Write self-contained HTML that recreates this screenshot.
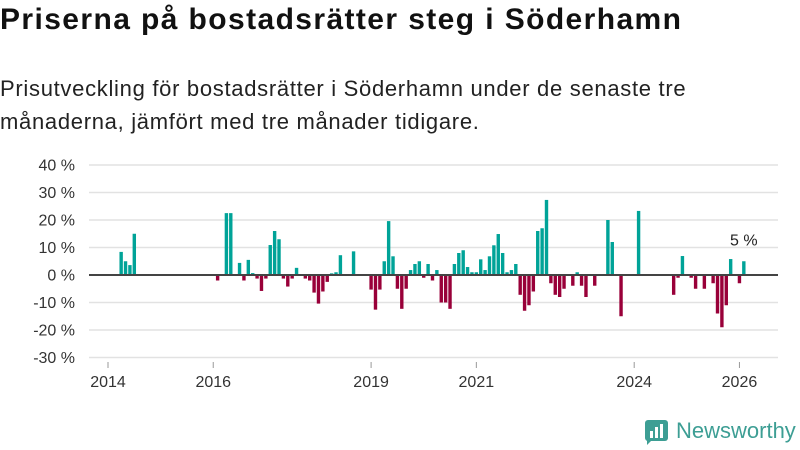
<!DOCTYPE html>
<html><head><meta charset="utf-8">
<style>
body{margin:0;width:800px;height:450px;background:#fff;overflow:hidden;font-family:"Liberation Sans",sans-serif;color:#111}
#title{position:absolute;left:0;top:3px;font-size:30px;font-weight:bold;white-space:nowrap;letter-spacing:1.4px}
#sub{position:absolute;left:0;top:72px;font-size:22px;line-height:33px;color:#222;width:720px;letter-spacing:0.7px}
svg{position:absolute;left:0;top:0}
</style></head><body>
<div id="title">Priserna på bostadsrätter steg i Söderhamn</div>
<div id="sub">Prisutveckling för bostadsrätter i Söderhamn under de senaste tre<br>månaderna, jämfört med tre månader tidigare.</div>
<svg id="chart" width="800" height="450"></svg>
<script>
const startYear = 2014;
const values = [null,null,null,8.4,5,3.6,15,null,null,null,null,null,null,null,null,null,null,null,null,null,null,null,null,null,null,-2,null,22.5,22.5,null,4.4,-2,5.5,0.7,-1.3,-5.8,-1.3,10.9,16,13,-1.3,-4.2,-1.3,2.6,null,-1.3,-2,-6.4,-10.4,-6,-2.5,0.6,1,7.2,null,null,8.6,null,null,null,-5.3,-12.6,-5.3,5,19.6,6.8,-5,-12.3,-5,1.8,4,5,-1,4,-2,1.8,-10,-10,-12.3,4,8,9,2.9,1,1,5.7,1.8,6.8,10.8,14.9,8,1,1.8,4,-7.2,-13,-11,-6,16,17,27.3,-3,-7.2,-8,-5,null,-3.9,1,-3.9,-8,null,-3.9,null,null,20,12,null,-15,null,null,null,23.3,null,null,null,null,null,null,null,-7.2,-1,6.9,null,-1,-5,null,-5,null,-3,-14,-19,-11,5.8,null,-3,5];
const yTicks = [40,30,20,10,0,-10,-20,-30];
const xTickYears = [2014,2016,2019,2021,2024,2026];
const lastLabel = "5 %";

const NS="http://www.w3.org/2000/svg";
const svg=document.getElementById('chart');
const x=m=>108+m*4.385;
const y=v=>275-v*2.75;
const X0=89, X1=778;
function mk(t,a){const e=document.createElementNS(NS,t);for(const k in a)e.setAttribute(k,a[k]);svg.appendChild(e);return e;}
yTicks.forEach(t=>{
  if(t!==0){const g=mk('line',{x1:X0,x2:X1,y1:y(t),y2:y(t),stroke:'#e2e2e2','stroke-width':1.5});
  
  }
  const l=mk('text',{x:75,y:y(t)+5.5,'text-anchor':'end','font-size':16,fill:'#333','font-family':'Liberation Sans, sans-serif'});
  l.textContent=t+' %';
  
  
});
xTickYears.forEach(yr=>{
  const px=x((yr-startYear)*12);
  const tk=mk('line',{x1:px,x2:px,y1:362,y2:368,stroke:'#999','stroke-width':1});
  
  
  const l=mk('text',{x:px,y:387,'text-anchor':'middle','font-size':16,fill:'#333','font-family':'Liberation Sans, sans-serif'});
  l.textContent=yr;
  
  
});
let last=-1;
values.forEach((v,i)=>{
  if(v===null)return;
  last=i;
  const top=v>=0?y(v):y(0), h=Math.abs(y(v)-y(0));
  const b=mk('rect',{x:x(i)-1.7,y:top,width:3.4,height:h,fill:v>=0?'#00a398':'#990039'});
  
  
});
const z=mk('line',{x1:X0,x2:X1,y1:y(0),y2:y(0),stroke:'#444','stroke-width':2});


if(last>=0){
  const t=mk('text',{x:x(last),y:y(values[last])-16,'text-anchor':'middle','font-size':16,fill:'#222','font-family':'Liberation Sans, sans-serif'});
  t.textContent=lastLabel;
  
  
}
</script>
<div style="position:absolute;left:645px;top:419px;width:155px;height:28px">
  <div style="position:absolute;left:0;top:1px;width:23px;height:21px;background:#3d9e94;border-radius:3px"></div>
  <div style="position:absolute;left:2px;top:20px;width:0;height:0;border-left:6px solid #3d9e94;border-bottom:6px solid transparent"></div>
  <div style="position:absolute;left:5px;top:12px;width:3px;height:7px;background:#fff"></div>
  <div style="position:absolute;left:10px;top:8px;width:3px;height:11px;background:#fff"></div>
  <div style="position:absolute;left:15px;top:5px;width:3px;height:14px;background:#fff"></div>
  <div style="position:absolute;left:31px;top:-1px;font-size:22px;color:#3d9e94;font-family:'Liberation Sans',sans-serif">Newsworthy</div>
</div>
</body></html>
